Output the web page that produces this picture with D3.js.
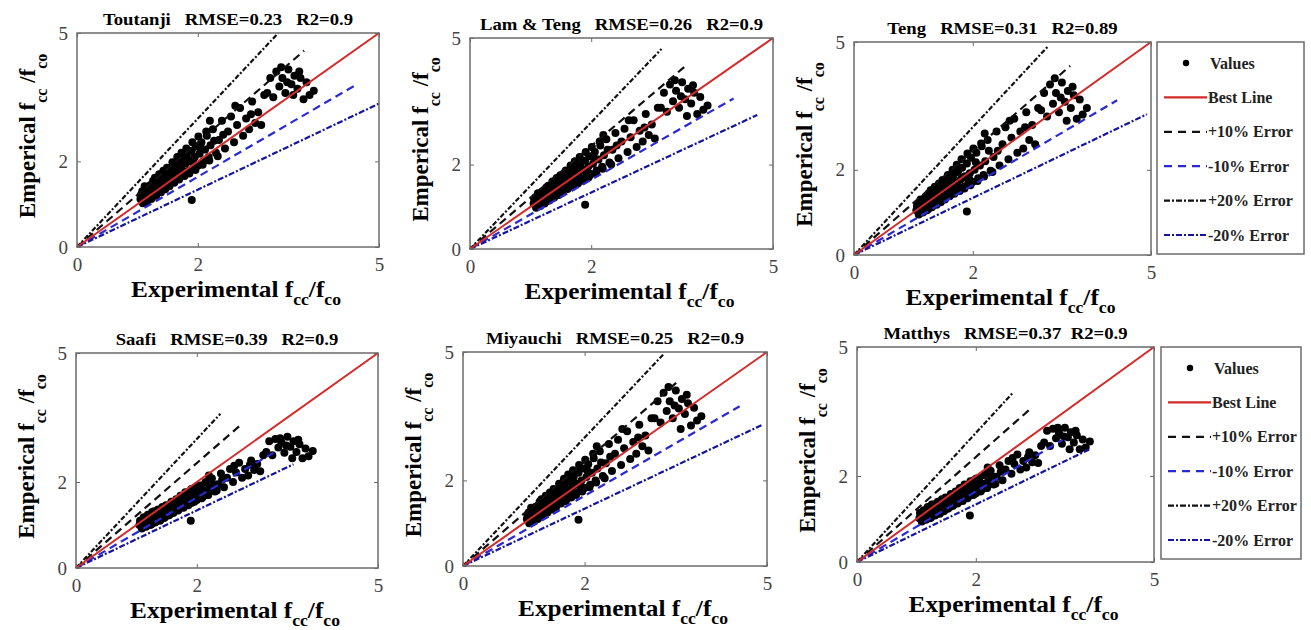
<!DOCTYPE html>
<html>
<head>
<meta charset="utf-8">
<script src="https://cdn.jsdelivr.net/npm/d3@7"></script>
<style>
body { margin: 0; background: #fff; }
text { font-family: "Liberation Serif", "Times New Roman", serif; }
</style>
</head>
<body>
<svg id="chart" width="1311" height="630"></svg>
<script>
// ---- data ----
var models = ["Toutanji", "Lam & Teng", "Teng", "Saafi", "Miyauchi", "Matthys"]
var rmse = ["0.23", "0.26", "0.31", "0.39", "0.25", "0.37"]
var r2 = ["0.9", "0.9", "0.89", "0.9", "0.9", "0.9"]
var tickValues = [0, 2, 5]
var legendLabels = ["Values", "Best Line", "+10% Error", "-10% Error", "+20% Error", "-20% Error"]

// experimental f'cc/f'co, shared by all six models
var experimental = [1.05,1.08,1.10,1.12,1.15,1.17,1.20,1.22,1.25,1.27,
	1.30,1.32,1.35,1.37,1.40,1.42,1.45,1.47,1.50,1.52,
	1.55,1.57,1.60,1.62,1.65,1.67,1.70,1.72,1.75,1.77,
	1.80,1.82,1.85,1.87,1.90,1.92,1.95,1.97,2.00,2.03,
	2.06,2.09,2.12,2.15,2.18,2.21,2.25,2.30,1.12,1.18,
	1.24,1.29,1.34,1.44,1.54,1.64,1.74,1.84,1.94,2.05,
	2.35,2.40,2.45,2.50,2.55,2.60,2.65,2.70,2.75,2.80,
	2.85,2.90,2.95,3.00,3.05,3.10,2.20,2.42,2.62,2.88,
	3.15,3.20,3.25,3.30,3.35,3.40,3.45,3.50,3.55,3.60,
	3.65,3.70,3.75,3.80,3.85,3.92,3.38,3.48,3.58,3.68,
	1.90,
	1.06,1.09,1.13,1.16,1.19,1.23,1.26,1.31,1.36,1.39,
	1.43,1.46,1.49,1.53,1.58,1.61,1.66,1.69,1.73,1.78,
	1.81,1.86,1.91,1.96,2.01,2.08,2.14,2.19,2.27,2.33]

var toutanji = [1.12,1.30,1.05,1.22,1.38,1.10,1.30,1.45,1.18,1.40,
	1.52,1.28,1.45,1.60,1.35,1.55,1.70,1.42,1.62,1.78,
	1.50,1.70,1.88,1.55,1.78,1.95,1.62,1.85,2.05,1.70,
	1.95,2.15,1.78,2.02,2.25,1.82,2.10,2.35,1.90,2.18,
	2.45,2.00,2.28,2.60,2.10,2.38,2.75,2.20,1.42,1.22,
	1.35,1.62,1.38,1.50,1.85,1.68,1.80,2.00,1.95,2.30,
	2.50,2.95,2.30,2.70,3.05,2.45,2.85,3.25,2.60,3.00,
	2.75,3.40,2.90,3.15,2.85,3.55,2.95,2.62,3.30,3.10,
	3.60,3.95,3.50,4.10,3.75,3.95,3.60,4.15,3.80,4.00,
	3.70,3.95,3.45,3.85,3.55,3.65,4.20,3.85,3.55,4.10,
	1.10,
	1.22,1.02,1.30,1.05,1.42,1.12,1.55,1.20,1.70,1.28,
	1.78,1.35,1.85,1.42,1.98,1.50,2.10,1.58,2.20,1.66,
	2.30,1.72,2.45,1.80,2.58,1.92,2.70,2.02,2.48,2.12]
var lamTeng = [1.08,1.22,1.00,1.15,1.30,1.05,1.22,1.36,1.12,1.32,
	1.42,1.20,1.38,1.50,1.28,1.45,1.60,1.34,1.52,1.66,
	1.42,1.60,1.76,1.46,1.66,1.82,1.52,1.74,1.92,1.60,
	1.82,2.00,1.66,1.88,2.10,1.72,1.95,2.20,1.78,2.02,
	2.30,1.86,2.12,2.45,1.95,2.22,2.60,2.05,1.32,1.14,
	1.26,1.50,1.30,1.40,1.72,1.58,1.68,1.86,1.82,2.15,
	2.35,2.75,2.15,2.55,2.85,2.30,2.65,3.05,2.42,2.80,
	2.55,3.20,2.70,2.95,2.62,3.35,2.70,2.45,3.05,2.88,
	3.35,3.70,3.25,3.90,3.50,3.75,3.35,3.95,3.55,3.80,
	3.45,3.70,3.20,3.60,3.30,3.40,4.00,3.62,3.15,3.88,
	1.05,
	1.18,0.98,1.25,1.02,1.36,1.08,1.46,1.15,1.60,1.22,
	1.68,1.28,1.75,1.35,1.86,1.42,1.98,1.48,2.08,1.55,
	2.18,1.62,2.30,1.70,2.42,1.80,2.55,1.90,2.35,2.00]
var teng = [1.05,1.20,0.98,1.12,1.28,1.02,1.18,1.35,1.08,1.28,
	1.40,1.15,1.32,1.48,1.22,1.40,1.58,1.28,1.48,1.66,
	1.36,1.55,1.75,1.42,1.62,1.85,1.48,1.70,1.95,1.55,
	1.78,2.05,1.60,1.85,2.15,1.66,1.92,2.28,1.72,2.00,
	2.40,1.80,2.10,2.55,1.88,2.20,2.70,1.98,1.30,1.10,
	1.22,1.52,1.26,1.36,1.72,1.52,1.64,1.82,1.78,2.18,
	2.30,2.90,2.10,2.60,3.00,2.25,2.75,3.20,2.40,2.90,
	2.50,3.35,2.70,3.05,2.60,3.45,2.85,2.45,3.15,3.00,
	3.40,3.80,3.25,4.00,3.55,3.80,3.35,4.05,3.60,3.85,
	3.45,3.75,3.20,3.65,3.30,3.45,4.15,3.70,3.15,3.95,
	1.02,
	1.15,0.95,1.24,1.00,1.34,1.05,1.45,1.12,1.60,1.18,
	1.68,1.24,1.76,1.30,1.88,1.38,2.00,1.44,2.12,1.50,
	2.25,1.56,2.38,1.64,2.50,1.74,2.62,1.84,2.45,1.95]
var saafi = [1.00,1.08,0.95,1.02,1.12,0.98,1.08,1.18,1.02,1.14,
	1.22,1.08,1.20,1.28,1.12,1.25,1.34,1.18,1.32,1.40,
	1.24,1.38,1.48,1.30,1.44,1.55,1.36,1.50,1.62,1.42,
	1.56,1.70,1.48,1.62,1.78,1.52,1.68,1.86,1.58,1.74,
	1.92,1.64,1.80,2.00,1.70,1.86,2.08,1.78,1.18,1.05,
	1.12,1.32,1.14,1.22,1.45,1.38,1.46,1.58,1.60,1.82,
	1.95,2.20,1.88,2.10,2.30,2.00,2.22,2.45,2.10,2.30,
	2.15,2.50,2.28,2.42,2.25,2.62,2.15,2.05,2.38,2.40,
	2.70,2.95,2.62,3.00,2.80,2.92,2.68,3.05,2.82,2.95,
	2.70,2.88,2.55,2.78,2.60,2.72,3.02,2.85,2.55,2.98,
	1.10,
	1.10,0.92,1.16,0.96,1.24,1.00,1.30,1.06,1.36,1.10,
	1.42,1.16,1.46,1.22,1.54,1.28,1.60,1.34,1.68,1.40,
	1.76,1.46,1.84,1.54,1.90,1.62,1.98,1.70,1.95,1.80]
var miyauchi = [1.10,1.25,1.02,1.18,1.34,1.06,1.25,1.40,1.14,1.35,
	1.46,1.22,1.40,1.55,1.30,1.48,1.64,1.36,1.56,1.72,
	1.45,1.64,1.82,1.50,1.70,1.88,1.56,1.78,1.98,1.64,
	1.86,2.08,1.70,1.92,2.18,1.76,2.00,2.28,1.82,2.08,
	2.38,1.90,2.18,2.52,2.00,2.28,2.68,2.10,1.36,1.16,
	1.30,1.56,1.32,1.44,1.78,1.62,1.72,1.92,1.86,2.22,
	2.40,2.85,2.22,2.62,2.95,2.36,2.75,3.15,2.50,2.90,
	2.62,3.30,2.80,3.05,2.70,3.45,2.80,2.55,3.20,3.00,
	3.45,3.85,3.35,4.05,3.62,3.85,3.45,4.10,3.68,3.90,
	3.55,3.80,3.28,3.70,3.40,3.50,4.18,3.75,3.20,4.00,
	1.08,
	1.20,1.00,1.28,1.04,1.38,1.10,1.50,1.18,1.64,1.25,
	1.72,1.32,1.80,1.38,1.92,1.46,2.04,1.52,2.14,1.60,
	2.24,1.66,2.36,1.74,2.48,1.84,2.62,1.95,2.42,2.05]
var matthys = [1.02,1.12,0.96,1.05,1.16,1.00,1.10,1.22,1.04,1.16,
	1.26,1.10,1.22,1.32,1.14,1.28,1.38,1.20,1.34,1.44,
	1.26,1.40,1.52,1.32,1.46,1.58,1.38,1.52,1.66,1.44,
	1.58,1.74,1.50,1.64,1.82,1.55,1.70,1.90,1.60,1.76,
	1.96,1.66,1.82,2.05,1.72,1.88,2.12,1.80,1.20,1.06,
	1.14,1.34,1.16,1.24,1.48,1.40,1.48,1.60,1.62,1.85,
	1.98,2.25,1.90,2.15,2.35,2.05,2.28,2.50,2.15,2.35,
	2.20,2.55,2.32,2.48,2.30,2.70,2.20,2.10,2.42,2.45,
	2.78,3.05,2.70,3.10,2.88,3.00,2.75,3.12,2.90,3.02,
	2.78,2.95,2.62,2.85,2.66,2.80,3.12,2.92,2.62,3.05,
	1.08,
	1.14,0.94,1.20,0.98,1.28,1.02,1.34,1.08,1.40,1.12,
	1.46,1.18,1.50,1.24,1.58,1.30,1.64,1.36,1.72,1.42,
	1.80,1.48,1.88,1.56,1.94,1.64,2.02,1.72,2.00,1.82]
var empirical = [toutanji, lamTeng, teng, saafi, miyauchi, matthys]

// error band slopes and where each line stops (x value), per panel
var plus10Slope = 1.22, minus10Slope = 0.82, plus20Slope = 1.5, minus20Slope = 0.67
var plus10End = [3.76, 3.55, 3.64, 2.71, 3.54, 2.94]
var minus10End = [4.62, 4.35, 4.43, 3.27, 4.55, 3.46]
var plus20End = [3.33, 3.16, 3.27, 2.39, 3.30, 2.62]
var minus20End = [5.0, 4.74, 4.93, 3.60, 4.93, 3.92]

// ---- layout ----
var panels = [
	{left: 77, right: 379, top: 33, bottom: 247},
	{left: 470, right: 773, top: 38, bottom: 249},
	{left: 854, right: 1151, top: 42, bottom: 255},
	{left: 76, right: 378, top: 353, bottom: 568},
	{left: 463, right: 767, top: 352, bottom: 566},
	{left: 857, right: 1154, top: 347, bottom: 562}
]
var legendBoxes = [
	{left: 1157, top: 42, width: 147, height: 212},
	{left: 1161, top: 347, width: 140, height: 212}
]
var RED = "#d42a2a", BLUE = "#2a2ad4", NAVY = "#14149c", FRAME = "#6b6b6b"
var lineStyles = [
	{color: BLUE, dash: "8,5"},
	{color: NAVY, dash: "6,2,2,2"},
	{color: "#111", dash: "8,5"},
	{color: "#111", dash: "5,2,2,2"}
]
var legendStyles = [null, {color: RED, dash: null}, {color: "#111", dash: "8,6"}, {color: BLUE, dash: "8,6"}, {color: "#111", dash: "6,2,2,2"}, {color: NAVY, dash: "6,2,2,2"}]

var svg = d3.select("#chart")

panels.forEach(function(p, i) {
	var w = p.right - p.left, h = p.bottom - p.top
	var x = d3.scaleLinear().domain([0, 5]).range([0, w])
	var y = d3.scaleLinear().domain([0, 5]).range([h, 0])
	var g = svg.append("g").attr("transform", "translate(" + p.left + "," + p.top + ")")

	// scatter
	var pts = experimental.map(function(v, k) { return {x: v, y: empirical[i][k]} })
	g.append("g").selectAll("circle").data(pts).enter().append("circle")
		.attr("cx", d => x(d.x))
		.attr("cy", d => y(d.y))
		.attr("r", 4)
		.attr("fill", "#000")

	// error lines then the best line
	var line = d3.line().x(d => x(d[0])).y(d => y(d[1]))
	var errs = [
		{end: minus10End[i], slope: minus10Slope, style: lineStyles[0]},
		{end: minus20End[i], slope: minus20Slope, style: lineStyles[1]},
		{end: plus10End[i], slope: plus10Slope, style: lineStyles[2]},
		{end: plus20End[i], slope: plus20Slope, style: lineStyles[3]}
	]
	errs.forEach(function(e) {
		g.append("path")
			.attr("d", line([[0, 0], [e.end, e.end * e.slope]]))
			.attr("fill", "none")
			.attr("stroke", e.style.color)
			.attr("stroke-width", 2.2)
			.attr("stroke-dasharray", e.style.dash)
	})
	g.append("path")
		.attr("d", line([[0, 0], [5, 5]]))
		.attr("fill", "none")
		.attr("stroke", RED)
		.attr("stroke-width", 2)

	// axes: ticks inside, labels outside
	var fmt = d3.format("d")
	g.append("g").attr("transform", "translate(0," + h + ")")
		.call(d3.axisBottom(x).tickValues(tickValues).tickFormat(fmt).tickSize(-4).tickSizeOuter(0).tickPadding(11))
	g.append("g")
		.call(d3.axisLeft(y).tickValues(tickValues).tickFormat(fmt).tickSize(-4).tickSizeOuter(0).tickPadding(9))
	g.append("g").call(d3.axisTop(x).tickValues(tickValues).tickSize(-4).tickSizeOuter(0).tickFormat(""))
	g.append("g").attr("transform", "translate(" + w + ",0)")
		.call(d3.axisRight(y).tickValues(tickValues).tickSize(-4).tickSizeOuter(0).tickFormat(""))
	g.selectAll(".domain").remove()
	g.selectAll(".tick line").attr("stroke", FRAME)
	g.selectAll(".tick text")
		.attr("font-size", 19)
		.attr("fill", "#444")

	g.append("rect")
		.attr("width", w).attr("height", h)
		.attr("fill", "none")
		.attr("stroke", FRAME)
		.attr("stroke-width", 1.5)

	// title
	g.append("text")
		.attr("transform", "translate(" + (w / 2) + ",-8) scale(1.1,1)")
		.attr("text-anchor", "middle")
		.attr("font-size", 17)
		.attr("font-weight", "bold")
		.style("white-space", "pre")
		.text(models[i] + "   RMSE=" + rmse[i] + (i === 5 ? "  " : "   ") + "R2=" + r2[i])

	// x label
	var xl = g.append("text")
		.attr("transform", "translate(" + (w / 2 + 8) + "," + (h + 50) + ") scale(1.1,1)")
		.attr("text-anchor", "middle")
		.attr("font-size", 23)
		.attr("font-weight", "bold")
	xl.append("tspan").text("Experimental f")
	xl.append("tspan").attr("dy", 8).attr("font-size", 16).text("cc")
	xl.append("tspan").attr("dy", -8).text("/f")
	xl.append("tspan").attr("dy", 8).attr("font-size", 16).text("co")

	// y label
	var yl = g.append("text")
		.attr("transform", "translate(-42," + (h / 2 - 4) + ") rotate(-90)")
		.attr("text-anchor", "middle")
		.attr("font-size", 23)
		.attr("font-weight", "bold")
	yl.append("tspan").text("Emperical f")
	yl.append("tspan").attr("dy", 12).attr("font-size", 16).text("cc")
	yl.append("tspan").attr("dy", -12).style("white-space", "pre").text(" /f")
	yl.append("tspan").attr("dy", 12).attr("font-size", 16).text("co")
})

// legends (right column)
legendBoxes.forEach(function(b) {
	var lg = svg.append("g").attr("transform", "translate(" + b.left + "," + b.top + ")")
	lg.append("rect")
		.attr("width", b.width).attr("height", b.height)
		.attr("fill", "#fff")
		.attr("stroke", FRAME)
		.attr("stroke-width", 1.5)
	var rows = lg.selectAll("g.row").data(legendLabels).enter().append("g")
		.attr("class", "row")
		.attr("transform", (d, k) => "translate(0," + (21 + k * 34.4) + ")")
	rows.each(function(d, k) {
		var r = d3.select(this)
		if (k === 0) {
			r.append("circle").attr("cx", 29).attr("cy", 0).attr("r", 3.2).attr("fill", "#000")
		} else {
			r.append("line")
				.attr("x1", 7).attr("x2", 50)
				.attr("stroke", legendStyles[k].color)
				.attr("stroke-width", 2.2)
				.attr("stroke-dasharray", legendStyles[k].dash)
		}
		r.append("text")
			.attr("x", k === 0 ? 53 : 51)
			.attr("dy", "0.35em")
			.attr("font-size", 16)
			.attr("font-weight", "bold")
			.attr("fill", "#222")
			.text(d)
	})
})
</script>
</body>
</html>
